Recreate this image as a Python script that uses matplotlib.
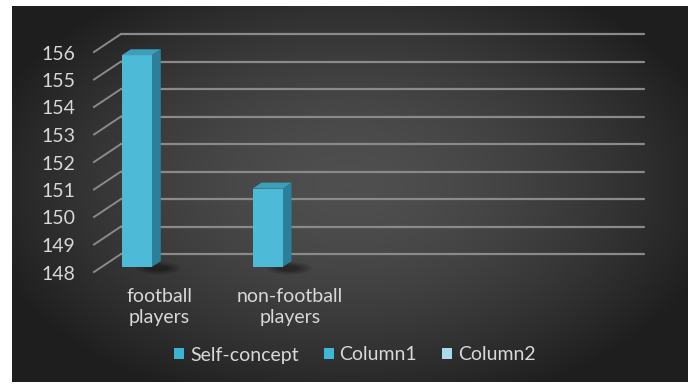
import numpy as np
import matplotlib
matplotlib.use("Agg")
import matplotlib.pyplot as plt
from matplotlib.patches import Polygon, Ellipse, Patch
from matplotlib import transforms

# ---- data ----
categories = ["football\nplayers", "non-football\nplayers"]
self_concept = [155.7, 150.85]
series_names = ["Self-concept", "Column1", "Column2"]
series_colors = ["#3bb3d2", "#3db8d8", "#a9dcea"]
y_ticks = [148, 149, 150, 151, 152, 153, 154, 155, 156]
n_slots = 4  # category slots on the axis

W, H = 696, 389
fig = plt.figure(figsize=(W / 100, H / 100), dpi=100)
fig.patch.set_facecolor("white")
plt.rcParams['font.family'] = ['Lato', 'DejaVu Sans']
FS = 14

# ---- background panel with radial gradient ----
bx0, by0, bx1, by1 = 12, 6, 688, 382
bg = fig.add_axes([bx0 / W, (H - by1) / H, (bx1 - bx0) / W, (by1 - by0) / H])
gx = np.linspace(-1, 1, 400)
gy = np.linspace(-1, 1, 220)
XX, YY = np.meshgrid(gx, gy)
r = np.sqrt((XX / 1.05) ** 2 + ((YY + 0.05) / 1.15) ** 2)
c = np.clip(0.31 - 0.17 * r ** 1.6, 0.12, 0.32)
img = np.dstack([c, c, c])
bg.imshow(img, extent=[0, 1, 0, 1], aspect="auto", interpolation="bilinear")
bg.set_axis_off()

# ---- main axes (front plane) ----
fx0, fx1, fy_lo, fy_hi = 94, 617, 272, 52
ax = fig.add_axes([fx0 / W, (H - fy_lo) / H, (fx1 - fx0) / W, (fy_lo - fy_hi) / H])
ax.set_xlim(-0.5, n_slots - 0.5)
ax.set_ylim(y_ticks[0], y_ticks[-1])
ax.set_axis_off()
ax.patch.set_alpha(0)

# depth vector (full depth) in data units
Dx, Dy = 27 / ((fx1 - fx0) / n_slots), 18 / ((fy_lo - fy_hi) / (y_ticks[-1] - y_ticks[0]))
grid_col = "#8a8a8a"
base = y_ticks[0]

# back wall gridlines and left wall diagonals
for v in y_ticks:
    ax.plot([-0.5 + Dx, n_slots - 0.5 + Dx], [v + Dy, v + Dy], color=grid_col, lw=1.6,
            clip_on=False, solid_capstyle="round", zorder=1)
    ax.plot([-0.5, -0.5 + Dx], [v, v + Dy], color=grid_col, lw=1.4, clip_on=False, zorder=1)

# tick labels
lab_tr = transforms.offset_copy(ax.transData, fig=fig, x=-19, y=-2, units="dots")
for v in y_ticks:
    ax.text(-0.5, v, str(v), transform=lab_tr, ha="right", va="center",
            color="#d8d8d8", fontsize=FS)

# bars (3D look)
w = 0.23
d0, dd = 0.28, 0.33
front_col, side_col, top_col = "#4dbad7", "#2c7f98", "#3d9fbc"
for i, val in enumerate(self_concept):
    x0 = i - 1.5 * w + d0 * Dx
    x1 = x0 + w
    b = base + d0 * Dy
    # shadow on floor
    for k, a in enumerate([0.10, 0.10, 0.12, 0.14]):
        ax.add_patch(Ellipse((x1 + 0.05, b - 0.05), width=0.34 - 0.06 * k, height=0.45 - 0.08 * k,
                             facecolor="black", edgecolor="none", alpha=a, clip_on=False, zorder=2))
    ax.bar(x0 + w / 2, val - base, bottom=b, width=w, color=front_col, edgecolor="none",
           zorder=4, clip_on=False)
    ax.add_patch(Polygon([(x1, b), (x1, val + d0 * Dy), (x1 + dd * Dx, val + (d0 + dd) * Dy),
                          (x1 + dd * Dx, b + dd * Dy)], closed=True, facecolor=side_col,
                         edgecolor="none", zorder=3, clip_on=False))
    ax.add_patch(Polygon([(x0, val + d0 * Dy), (x1, val + d0 * Dy),
                          (x1 + dd * Dx, val + (d0 + dd) * Dy), (x0 + dd * Dx, val + (d0 + dd) * Dy)],
                         closed=True, facecolor=top_col, edgecolor="none", zorder=5, clip_on=False))

# category labels
cat_tr = transforms.offset_copy(ax.transData, fig=fig, x=0, y=-16, units="dots")
for i, lab in enumerate(categories):
    ax.text(i, base, lab, transform=cat_tr, ha="center", va="top", color="#d8d8d8",
            fontsize=FS, linespacing=1.25)

# legend
handles = [Patch(facecolor=c_, edgecolor="none") for c_ in series_colors]
leg = fig.legend(handles, series_names, loc="center", bbox_to_anchor=(355 / W, 1 - 355 / H),
                 ncol=3, frameon=False, fontsize=FS, labelcolor="#d8d8d8",
                 handlelength=0.5, handleheight=0.5, handletextpad=0.3, columnspacing=1.3)

fig.savefig("out.png", dpi=100, facecolor="white")
